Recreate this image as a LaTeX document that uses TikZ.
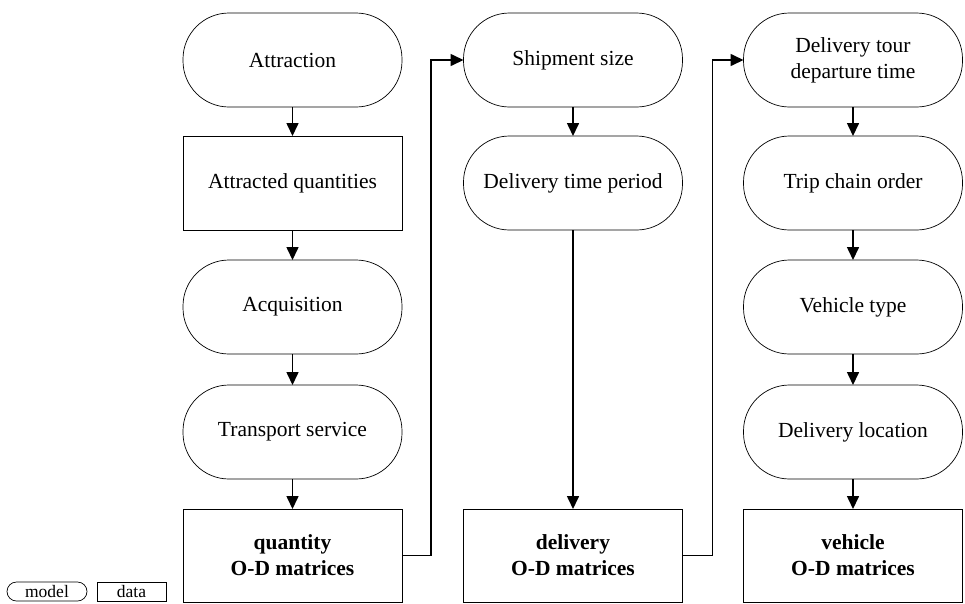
\documentclass[tikz,border=0pt]{standalone}
\usepackage{fontspec}
\setmainfont{Liberation Serif}
\usetikzlibrary{arrows.meta}
\begin{document}
\begin{tikzpicture}[x=1pt,y=-1pt,
  every node/.style={inner sep=0pt, outer sep=0pt},
  mainfont/.style={font=\fontsize{21.5}{26}\selectfont},
  modelbox/.style={draw, line width=0.7pt, rounded corners=46pt,
    minimum width=219pt, minimum height=94pt, align=center, mainfont},
  databox/.style={draw, line width=0.7pt,
    minimum width=219pt, minimum height=94pt, align=center, mainfont},
  outbox/.style={databox, minimum height=93pt,
    font=\fontsize{21.5}{26}\selectfont\bfseries},
  legmodel/.style={draw, line width=0.7pt, rounded corners=9.5pt,
    minimum width=80pt, minimum height=19pt, font=\fontsize{17.5}{20}\selectfont},
  legdata/.style={draw, line width=0.7pt,
    minimum width=69pt, minimum height=19pt, font=\fontsize{17.5}{20}\selectfont},
  flow/.style={line width=1.6pt, -{Triangle[length=13pt,width=12pt]}},
]
\useasboundingbox (0,0) rectangle (965,603);

% quantity column
\node[modelbox] (attr)  at (292.5,60)  {Attraction};
\node[databox]  (attq)  at (292.5,183) {Attracted quantities};
\node[modelbox] (acq)   at (292.5,307) {Acquisition};
\node[modelbox] (trans) at (292.5,432) {Transport service};
\node[outbox]   (qod)   at (292.5,555.5) {quantity\\O-D matrices};

% delivery column
\node[modelbox] (ship)  at (573,60)  {Shipment size};
\node[modelbox] (dtp)   at (573,183) {Delivery time period};
\node[outbox]   (dod)   at (573,555.5) {delivery\\O-D matrices};

% vehicle column
\node[modelbox] (tour)  at (853,60)  {Delivery tour\\departure time};
\node[modelbox] (trip)  at (853,183) {Trip chain order};
\node[modelbox] (vtype) at (853,307) {Vehicle type};
\node[modelbox] (loc)   at (853,432) {Delivery location};
\node[outbox]   (vod)   at (853,555.5) {vehicle\\O-D matrices};

% legend
\node[legmodel] (lm) at (47,591.5) {model};
\node[legdata]  (ld) at (131.5,591.5) {data};

% flows within columns
\draw[flow] (attr) -- (attq);
\draw[flow] (attq) -- (acq);
\draw[flow] (acq) -- (trans);
\draw[flow] (trans) -- (qod);
\draw[flow] (ship) -- (dtp);
\draw[flow] (dtp) -- (dod);
\draw[flow] (tour) -- (trip);
\draw[flow] (trip) -- (vtype);
\draw[flow] (vtype) -- (loc);
\draw[flow] (loc) -- (vod);

% flows between columns
\draw[flow] (qod.east) -- ++(29,0) |- (ship.west);
\draw[flow] (dod.east) -- ++(30,0) |- (tour.west);
\end{tikzpicture}
\end{document}
